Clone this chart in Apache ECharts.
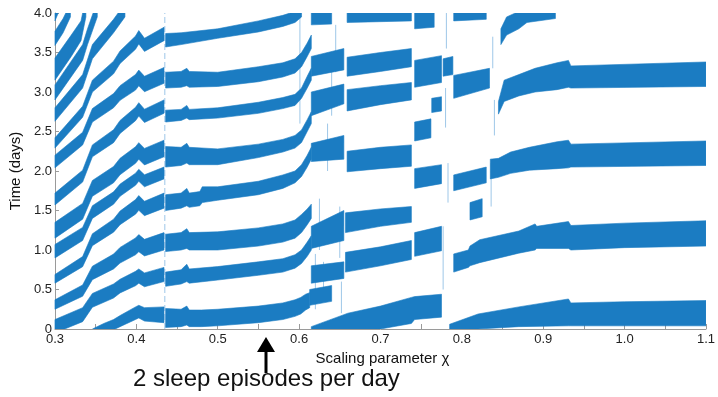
<!DOCTYPE html>
<html><head><meta charset="utf-8">
<script src="https://cdn.jsdelivr.net/npm/echarts@6/dist/echarts.min.js"></script>
<style>html,body{margin:0;padding:0;background:#fff}#c{width:718px;height:397px}</style>
</head><body><div id="c"></div>
<script>
// Each band: list of [x, lowerTime, upperTime] (days)
const regionA = [
  [[0.300,-0.05,0.12],[0.334,0.093,0.27],[0.346,0.275,0.45],[0.372,0.392,0.57],[0.380,0.457,0.63],[0.399,0.548,0.73],[0.403,0.58,0.76],[0.410,0.535,0.71],[0.434,0.60,0.78]],
  [[0.300,0.25,0.37],[0.334,0.415,0.557],[0.346,0.625,0.795],[0.372,0.76,0.948],[0.380,0.835,1.033],[0.399,0.94,1.152],[0.403,0.978,1.195],[0.410,0.925,1.135],[0.434,1.0,1.22]],
  [[0.300,0.58,0.69],[0.334,0.789,0.917],[0.346,1.055,1.205],[0.372,1.226,1.39],[0.380,1.321,1.493],[0.399,1.454,1.638],[0.403,1.502,1.689],[0.410,1.435,1.617],[0.434,1.53,1.72]],
  [[0.300,0.90,1.07],[0.334,1.12,1.286],[0.346,1.40,1.56],[0.372,1.58,1.736],[0.380,1.68,1.834],[0.399,1.82,1.972],[0.403,1.87,2.021],[0.410,1.80,1.952],[0.434,1.90,2.05]],
  [[0.300,1.15,1.35],[0.334,1.39,1.59],[0.346,1.68,1.88],[0.372,1.85,2.057],[0.380,1.953,2.161],[0.399,2.098,2.307],[0.403,2.149,2.359],[0.410,2.077,2.286],[0.434,2.18,2.39]],
  [[0.300,1.57,1.72],[0.334,1.86,2.01],[0.346,2.18,2.33],[0.372,2.359,2.522],[0.380,2.475,2.64],[0.399,2.637,2.806],[0.403,2.695,2.865],[0.410,2.614,2.782],[0.434,2.73,2.90]],
  [[0.300,2.04,2.20],[0.334,2.33,2.49],[0.346,2.62,2.79],[0.372,2.80,2.98],[0.380,2.895,3.08],[0.399,3.024,3.221],[0.403,3.078,3.277],[0.410,3.003,3.199],[0.434,3.11,3.31]],
  [[0.300,2.29,2.42],[0.334,2.68,2.82],[0.346,3.00,3.15],[0.372,3.23,3.39],[0.380,3.36,3.52],[0.399,3.541,3.708],[0.403,3.609,3.778],[0.410,3.514,3.68],[0.434,3.65,3.82]],
  [[0.300,2.63,2.80],[0.334,3.05,3.22],[0.346,3.42,3.60],[0.372,3.75,3.92],[0.386,3.95,4.12]],
  [[0.300,2.90,3.09],[0.334,3.40,3.60],[0.340,3.60,3.80],[0.352,3.95,4.15]],
  [[0.300,3.15,3.43],[0.320,3.45,3.72],[0.332,3.65,3.90],[0.338,3.95,4.20]],
  [[0.300,3.59,3.77],[0.310,3.75,3.93],[0.319,3.95,4.12]],
  [[0.300,3.90,4.05],[0.304,4.00,4.15]],
  [[0.346,-0.10,0.0],[0.360,-0.05,0.07],[0.372,-0.01,0.12],[0.380,0.03,0.17],[0.399,0.12,0.28],[0.403,0.14,0.30],[0.410,0.10,0.27],[0.434,0.08,0.28]]
];
const regionB = [
  [[0.436,0.02,0.26],[0.455,0.03,0.25],[0.462,0.05,0.29],[0.465,0.03,0.24],[0.48,0.03,0.24],[0.50,0.04,0.25],[0.55,0.08,0.29],[0.58,0.12,0.33],[0.595,0.16,0.37],[0.602,0.19,0.40],[0.608,0.24,0.44],[0.613,0.27,0.46]],
  [[0.436,0.54,0.72],[0.455,0.57,0.75],[0.462,0.60,0.82],[0.465,0.58,0.76],[0.50,0.62,0.79],[0.55,0.68,0.85],[0.58,0.72,0.89],[0.595,0.77,0.94],[0.603,0.83,1.00],[0.61,0.92,1.10],[0.615,1.00,1.18]],
  [[0.436,0.98,1.20],[0.455,1.00,1.22],[0.462,1.02,1.27],[0.465,1.00,1.22],[0.50,1.00,1.23],[0.55,1.05,1.28],[0.58,1.10,1.33],[0.595,1.15,1.38],[0.603,1.22,1.45],[0.61,1.32,1.52],[0.615,1.40,1.58]],
  [[0.436,1.50,1.70],[0.455,1.53,1.72],[0.462,1.56,1.78],[0.465,1.54,1.72],[0.478,1.56,1.74],[0.481,1.60,1.80],[0.50,1.63,1.80],[0.55,1.70,1.87],[0.58,1.78,1.95],[0.595,1.85,2.00],[0.603,1.93,2.08],[0.61,2.05,2.20],[0.615,2.15,2.30]],
  [[0.436,2.05,2.31],[0.455,2.07,2.30],[0.462,2.10,2.35],[0.465,2.08,2.30],[0.50,2.08,2.28],[0.55,2.17,2.34],[0.58,2.24,2.40],[0.595,2.29,2.45],[0.603,2.36,2.52],[0.61,2.50,2.65],[0.615,2.60,2.75]],
  [[0.436,2.62,2.77],[0.455,2.64,2.78],[0.462,2.67,2.83],[0.465,2.65,2.78],[0.50,2.67,2.80],[0.55,2.73,2.87],[0.58,2.79,2.93],[0.595,2.83,2.97],[0.603,2.92,3.05],[0.61,3.05,3.20],[0.615,3.15,3.30]],
  [[0.436,3.05,3.25],[0.455,3.06,3.26],[0.462,3.08,3.30],[0.465,3.06,3.26],[0.50,3.07,3.25],[0.55,3.13,3.32],[0.58,3.19,3.37],[0.595,3.24,3.42],[0.603,3.32,3.50],[0.61,3.45,3.62],[0.615,3.55,3.72]],
  [[0.436,3.57,3.74],[0.455,3.60,3.75],[0.50,3.68,3.80],[0.55,3.76,3.90],[0.58,3.83,3.97],[0.595,3.88,4.02],[0.603,3.95,4.10]]
];
const regionC = [
  [[0.615,-0.05,0.03],[0.66,-0.03,0.20],[0.70,0.00,0.29],[0.738,0.07,0.40],[0.742,0.12,0.41],[0.775,0.15,0.44]],
  [[0.613,0.30,0.50],[0.640,0.35,0.55]],
  [[0.615,0.58,0.80],[0.655,0.64,0.85]],
  [[0.657,0.72,0.97],[0.70,0.80,1.04],[0.738,0.88,1.12]],
  [[0.615,1.02,1.30],[0.655,1.12,1.50]],
  [[0.657,1.22,1.47],[0.70,1.30,1.52],[0.738,1.35,1.55]],
  [[0.615,2.12,2.35],[0.655,2.15,2.45]],
  [[0.659,1.99,2.25],[0.70,2.03,2.30],[0.738,2.06,2.33]],
  [[0.615,2.70,3.00],[0.655,2.85,3.10]],
  [[0.659,2.76,3.03],[0.70,2.84,3.08],[0.738,2.90,3.12]],
  [[0.615,3.20,3.45],[0.655,3.28,3.55]],
  [[0.659,3.20,3.44],[0.70,3.26,3.50],[0.738,3.32,3.55]],
  [[0.615,3.85,4.10],[0.640,3.86,4.10]],
  [[0.659,3.88,4.10],[0.738,3.90,4.10]]
];
const regionD = [
  [[0.742,0.92,1.22],[0.775,0.99,1.30]],
  [[0.742,1.78,2.03],[0.775,1.84,2.08]],
  [[0.742,2.38,2.62],[0.762,2.42,2.66]],
  [[0.763,2.74,2.92],[0.775,2.76,2.94]],
  [[0.742,3.06,3.40],[0.775,3.12,3.46]],
  [[0.742,3.80,4.10],[0.766,3.82,4.10]],
  [[0.777,3.20,3.42],[0.789,3.22,3.45]],
  [[0.785,-0.02,0.06],[0.82,0.00,0.19],[0.87,0.03,0.28],[0.931,0.04,0.38],[0.934,0.04,0.33],[1.00,0.04,0.345],[1.10,0.04,0.36]],
  [[0.79,0.72,0.95],[0.808,0.78,1.00],[0.81,0.80,1.05],[0.822,0.84,1.13],[0.87,0.96,1.24],[0.89,1.00,1.33],[0.892,1.02,1.30],[0.931,1.02,1.36],[0.934,1.00,1.31],[1.00,1.03,1.34],[1.10,1.05,1.37]],
  [[0.81,1.38,1.60],[0.825,1.42,1.65]],
  [[0.79,1.75,1.95],[0.83,1.85,2.05]],
  [[0.835,1.90,2.15],[0.845,1.92,2.16],[0.86,1.97,2.24],[0.883,2.01,2.30],[0.917,2.03,2.37],[0.931,2.04,2.39],[0.934,2.05,2.34],[1.10,2.07,2.38]],
  [[0.79,2.92,3.21],[0.834,3.05,3.30]],
  [[0.845,2.72,2.88],[0.852,2.88,3.15],[0.87,2.95,3.22],[0.89,3.00,3.30],[0.917,3.03,3.37],[0.931,3.06,3.40],[0.934,3.05,3.33],[1.10,3.07,3.38]],
  [[0.79,3.90,4.10],[0.83,3.92,4.10]],
  [[0.848,3.60,3.80],[0.855,3.72,3.95],[0.87,3.80,4.02],[0.88,3.88,4.05],[0.915,3.93,4.05]]
];
// thin light vertical streaks: [x, from, to]
const dashed = [[0.435,0,4.0]];
const streaks = [[0.601,2.6,4.0],[0.62,0.25,0.95],[0.625,1.0,1.65],[0.63,0.35,0.85],[0.635,2.0,2.6],[0.64,2.7,3.3],
  [0.645,3.25,3.85],[0.65,0.9,1.55],[0.652,0.2,0.6],[0.777,0.5,1.3],[0.78,2.55,3.05],[0.781,3.55,4.0],
  [0.783,1.6,2.1],[0.836,1.55,2.1],[0.838,3.3,3.7],[0.84,2.45,2.9]];

const bands = [].concat(regionA, regionB, regionC, regionD);
const BLUE = '#1b7cc2';

const chart = echarts.init(document.getElementById('c'), null, {renderer:'canvas'});
function vline(list, dash){
  return (params, api)=>{
    const s = list[params.dataIndex];
    const a = api.coord([s[0], s[1]]), c = api.coord([s[0], s[2]]);
    return {type:'line', shape:{x1:a[0],y1:a[1],x2:c[0],y2:c[1]}, style:{stroke:'#9ec7e8', lineWidth:1, lineDash:dash}};
  };
}
chart.setOption({
  animation:false,
  grid:{left:48, right:8, top:13, bottom:68},
  xAxis:{type:'value', min:0.3, max:1.1, interval:0.05,
    name:'Scaling parameter χ', nameLocation:'middle', nameGap:11,
    nameTextStyle:{fontFamily:'Liberation Sans', fontSize:15, color:'#111', padding:[0,0,0,4]},
    axisLine:{lineStyle:{color:'#9a9a9a'}},
    axisTick:{inside:true, length:5, lineStyle:{color:'#9a9a9a'}},
    axisLabel:{fontFamily:'Liberation Sans', fontSize:13, color:'#222', margin:4,
      formatter:v=>{const r=Math.round(v*100);return r%10===0?(r/100).toFixed(1):'';}},
    splitLine:{show:false}},
  yAxis:{type:'value', min:0, max:4, interval:0.5,
    name:'Time (days)', nameLocation:'middle', nameGap:27,
    nameTextStyle:{fontFamily:'Liberation Sans', fontSize:15, color:'#111'},
    axisLine:{show:true, lineStyle:{color:'#9a9a9a'}},
    axisTick:{show:true, inside:true, length:4, lineStyle:{color:'#9a9a9a'}},
    axisLabel:{fontFamily:'Liberation Sans', fontSize:13, color:'#222', margin:3,
      formatter:v=>v===0?'0':v.toFixed(1)},
    splitLine:{show:false}},
  series:[
    {type:'custom', clip:true, z:2,
     data:bands.map(b=>[b[0][0], b[0][1]]),
     renderItem:(params, api)=>{
       const b = bands[params.dataIndex];
       const pts = b.map(p=>api.coord([p[0],p[2]])).concat(b.slice().reverse().map(p=>api.coord([p[0],p[1]])));
       return {type:'polygon', shape:{points:pts}, style:{fill:BLUE, stroke:BLUE, lineWidth:0.6}};
     }},
    {type:'custom', clip:true, z:1, data:dashed.map(s=>[s[0], s[1]]), renderItem:vline(dashed,[6,3])},
    {type:'custom', clip:true, z:1, data:streaks.map(s=>[s[0], s[1]]), renderItem:vline(streaks,null)}
  ],
  graphic:[
    {type:'rect', shape:{x:264.5, y:350, width:3, height:23}, style:{fill:'#000'}},
    {type:'polygon', shape:{points:[[266,337],[257,352],[275,352]]}, style:{fill:'#000'}},
    {type:'text', left:133, top:367, style:{text:'2 sleep episodes per day', font:'24px "Liberation Sans", Arial, sans-serif', fill:'#111'}}
  ]
});
</script></body></html>
